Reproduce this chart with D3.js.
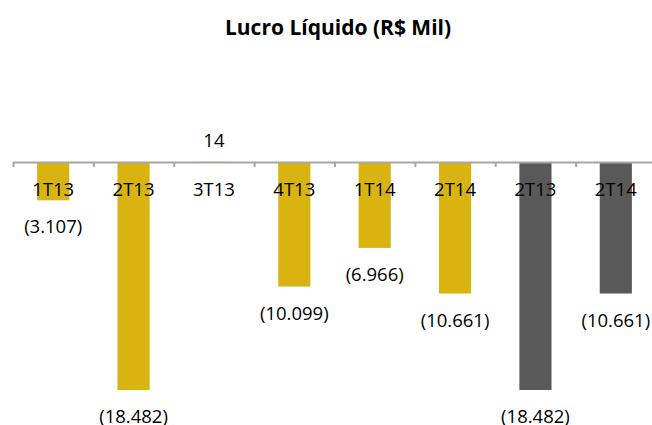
<!DOCTYPE html>
<html>
<head>
<meta charset="utf-8">
<script src="https://cdn.jsdelivr.net/npm/d3@7"></script>
<style>
  body { margin: 0; background: #fff; }
  text { font-family: "Open Sans", "Noto Sans", sans-serif; }
</style>
</head>
<body>
<div class="chart"></div>
<script>
// quarters, values in R$ mil
var categories = ["1T13", "2T13", "3T13", "4T13", "1T14", "2T14", "2T13", "2T14"];
var values = [-3107, -18482, 14, -10099, -6966, -10661, -18482, -10661];
var labels = ["(3.107)", "(18.482)", "14", "(10.099)", "(6.966)", "(10.661)", "(18.482)", "(10.661)"];
var barColors = ["#D9B411", "#D9B411", "#D9B411", "#D9B411", "#D9B411", "#D9B411", "#595959", "#595959"];

var width = 652, height = 425;

var svg = d3.select(".chart").append("svg")
    .attr("width", width)
    .attr("height", height);

var x = d3.scaleBand()
    .domain(d3.range(categories.length))
    .range([13, 656])
    .paddingInner(0.6)
    .paddingOuter(0.3);

var xTicks = d3.scaleLinear()
    .domain([0, categories.length])
    .range([13, 656]);

var y = d3.scaleLinear()
    .domain([-18482, 0])
    .range([390, 162]);

svg.append("text")
    .attr("x", 338)
    .attr("y", 35)
    .attr("text-anchor", "middle")
    .attr("font-size", "21px")
    .attr("font-weight", "bold")
    .text("Lucro Líquido (R$ Mil)");

// bars
svg.selectAll(".bar")
    .data(values)
    .enter()
    .append("rect")
    .attr("class", "bar")
    .attr("x", (d, i) => x(i))
    .attr("width", x.bandwidth())
    .attr("y", d => y(Math.max(0, d)))
    .attr("height", d => Math.abs(y(d) - y(0)))
    .attr("fill", (d, i) => barColors[i]);

// axis with tick marks between categories
var axis = svg.append("g")
    .attr("transform", `translate(0, ${y(0)})`)
    .call(d3.axisBottom(xTicks).ticks(categories.length).tickSize(5).tickSizeOuter(0).tickFormat(""));
axis.selectAll("path, line")
    .attr("stroke", "#A6A6A6")
    .attr("stroke-width", 2);

// category labels
svg.selectAll(".cat")
    .data(categories)
    .enter()
    .append("text")
    .attr("class", "cat")
    .attr("x", (d, i) => x(i) + x.bandwidth() / 2)
    .attr("y", 196)
    .attr("text-anchor", "middle")
    .attr("font-size", "18.5px")
    .attr("fill", "#000")
    .text(d => d);

// value labels
svg.selectAll(".val")
    .data(values)
    .enter()
    .append("text")
    .attr("class", "val")
    .attr("x", (d, i) => x(i) + x.bandwidth() / 2)
    .attr("y", d => d < 0 ? y(d) + 33 : y(d) - 15)
    .attr("text-anchor", "middle")
    .attr("font-size", "18.5px")
    .attr("fill", "#000")
    .text((d, i) => labels[i]);
</script>
</body>
</html>
